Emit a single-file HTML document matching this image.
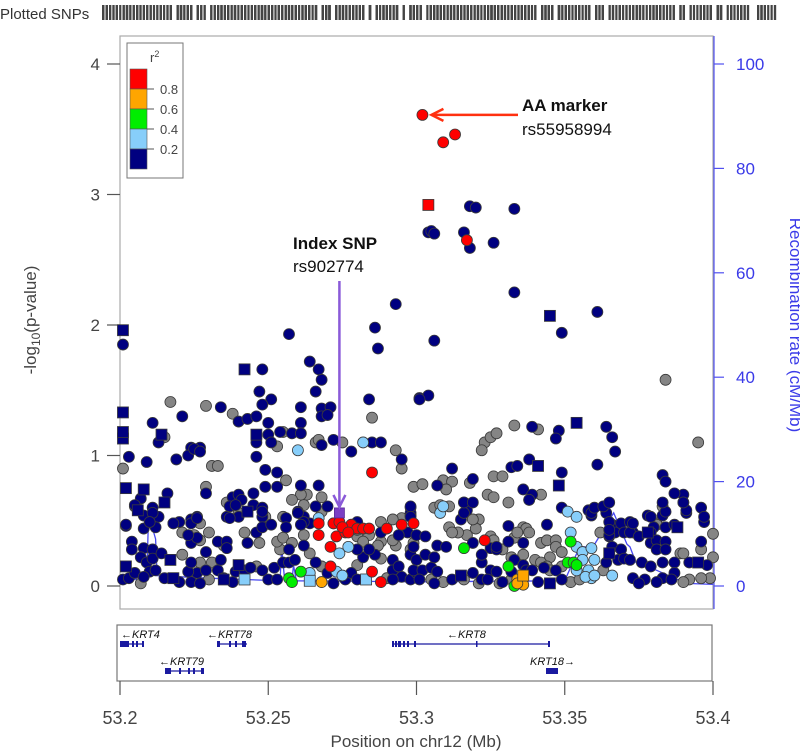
<!DOCTYPE html>
<html><head><meta charset="utf-8"><style>
html,body{margin:0;padding:0;background:#fff;}
svg{display:block;font-family:"Liberation Sans",Arial,sans-serif;}
</style></head><body>
<svg id="chart" width="800" height="754" viewBox="0 0 800 754" xmlns="http://www.w3.org/2000/svg"></svg>
<script>
// ---- data (position Mb, -log10 p) ----
const grayPts=[[53.384,1.58],[53.217,1.41],[53.229,1.38],[53.238,1.32],[53.255,1.18],[53.285,1.29],[53.266,1.10],[53.267,1.12],[53.275,1.10],[53.293,1.04],[53.215,1.14],[53.253,1.07],[53.231,0.92],[53.233,0.92],[53.229,0.76],[53.205,0.61],[53.221,0.41],[53.225,0.39],[53.201,0.90],[53.256,0.81],[53.268,0.68],[53.263,0.70],[53.261,0.70],[53.255,0.53],[53.267,0.48],[53.272,0.48],[53.333,1.23],[53.341,1.20],[53.395,1.10],[53.323,1.10],[53.322,1.04],[53.325,1.14],[53.327,1.17],[53.295,0.90],[53.342,0.70],[53.299,0.76],[53.302,0.78],[53.309,0.81],[53.312,0.80],[53.310,0.74],[53.318,0.79],[53.326,0.84],[53.329,0.84],[53.306,0.60],[53.311,0.61],[53.311,0.45],[53.314,0.41],[53.317,0.39],[53.321,0.51],[53.320,0.44],[53.324,0.70],[53.326,0.68],[53.331,0.64],[53.336,0.45],[53.337,0.44],[53.325,0.38],[53.362,0.41],[53.400,0.40],[53.383,0.61],[53.381,0.48],[53.389,0.25],[53.207,0.02],[53.230,0.05],[53.221,0.24],[53.227,0.35],[53.227,0.18],[53.231,0.18],[53.235,0.31],[53.242,0.41],[53.247,0.33],[53.246,0.15],[53.254,0.28],[53.253,0.34],[53.255,0.37],[53.258,0.33],[53.258,0.66],[53.262,0.62],[53.262,0.39],[53.264,0.25],[53.268,0.15],[53.268,0.57],[53.236,0.64],[53.240,0.56],[53.249,0.53],[53.227,0.48],[53.230,0.41],[53.280,0.16],[53.288,0.21],[53.290,0.06],[53.293,0.31],[53.298,0.28],[53.295,0.52],[53.288,0.49],[53.292,0.51],[53.292,0.35],[53.288,0.34],[53.287,0.31],[53.284,0.39],[53.280,0.38],[53.282,0.34],[53.280,0.43],[53.308,0.62],[53.319,0.51],[53.314,0.41],[53.326,0.31],[53.329,0.28],[53.333,0.37],[53.334,0.41],[53.338,0.41],[53.342,0.33],[53.344,0.35],[53.347,0.35],[53.347,0.30],[53.349,0.26],[53.345,0.22],[53.340,0.20],[53.342,0.18],[53.336,0.24],[53.332,0.22],[53.344,0.15],[53.345,0.12],[53.349,0.15],[53.305,0.05],[53.309,0.03],[53.316,0.05],[53.321,0.02],[53.328,0.02],[53.332,0.05],[53.352,0.03],[53.355,0.05],[53.363,0.12],[53.381,0.47],[53.390,0.25],[53.396,0.28],[53.400,0.22],[53.399,0.06],[53.396,0.06],[53.392,0.05],[53.390,0.03],[53.299,0.33],[53.312,0.41],[53.326,0.35]];
const navyPts=[[53.318,2.91],[53.320,2.90],[53.333,2.89],[53.304,2.71],[53.305,2.72],[53.306,2.70],[53.316,2.71],[53.318,2.59],[53.326,2.63],[53.333,2.25],[53.361,2.10],[53.349,1.94],[53.306,1.88],[53.293,2.16],[53.286,1.98],[53.287,1.82],[53.257,1.93],[53.248,1.66],[53.264,1.72],[53.267,1.66],[53.268,1.58],[53.266,1.49],[53.247,1.49],[53.301,1.44],[53.304,1.46],[53.211,1.25],[53.221,1.30],[53.234,1.37],[53.251,1.43],[53.248,1.39],[53.240,1.26],[53.243,1.28],[53.246,1.30],[53.250,1.25],[53.254,1.18],[53.258,1.17],[53.261,1.37],[53.261,1.25],[53.261,1.17],[53.268,1.36],[53.271,1.37],[53.268,1.30],[53.270,1.31],[53.284,1.43],[53.301,1.43],[53.285,1.10],[53.288,1.10],[53.272,1.12],[53.268,1.08],[53.278,1.03],[53.295,0.97],[53.246,1.14],[53.246,1.10],[53.250,1.16],[53.251,1.10],[53.227,1.06],[53.224,1.06],[53.213,1.10],[53.203,0.99],[53.209,0.95],[53.219,0.97],[53.223,1.00],[53.225,1.05],[53.227,1.03],[53.229,0.71],[53.216,0.71],[53.207,0.67],[53.211,0.60],[53.211,0.53],[53.208,0.54],[53.213,0.53],[53.202,0.46],[53.208,0.44],[53.212,0.45],[53.218,0.48],[53.220,0.49],[53.224,0.51],[53.226,0.53],[53.246,0.99],[53.249,0.89],[53.253,0.87],[53.249,0.76],[53.253,0.76],[53.261,0.77],[53.267,0.77],[53.238,0.68],[53.240,0.70],[53.241,0.66],[53.245,0.71],[53.245,0.62],[53.237,0.61],[53.236,0.53],[53.240,0.53],[53.248,0.60],[53.248,0.53],[53.260,0.57],[53.262,0.53],[53.266,0.61],[53.270,0.61],[53.264,0.48],[53.201,1.85],
[53.339,1.22],[53.348,1.19],[53.347,1.13],[53.364,1.22],[53.366,1.14],[53.367,1.03],[53.361,0.93],[53.383,0.85],[53.384,0.80],[53.312,0.90],[53.332,0.91],[53.334,0.92],[53.338,0.97],[53.349,0.87],[53.336,0.74],[53.339,0.70],[53.338,0.66],[53.307,0.77],[53.319,0.82],[53.316,0.64],[53.317,0.58],[53.298,0.60],[53.298,0.54],[53.297,0.41],[53.331,0.46],[53.344,0.47],[53.349,0.60],[53.358,0.58],[53.359,0.54],[53.364,0.56],[53.366,0.47],[53.367,0.41],[53.365,0.38],[53.369,0.48],[53.372,0.49],[53.370,0.41],[53.373,0.41],[53.378,0.54],[53.383,0.54],[53.380,0.45],[53.384,0.45],[53.384,0.57],[53.390,0.70],[53.387,0.71],[53.390,0.64],[53.391,0.56],[53.396,0.60],[53.397,0.49],[53.396,0.34],
[53.202,0.47],[53.204,0.34],[53.204,0.28],[53.201,0.05],[53.203,0.06],[53.205,0.10],[53.208,0.29],[53.207,0.22],[53.209,0.18],[53.211,0.28],[53.211,0.21],[53.210,0.11],[53.208,0.07],[53.212,0.12],[53.214,0.25],[53.215,0.06],[53.220,0.03],[53.224,0.03],[53.227,0.02],[53.226,0.10],[53.223,0.11],[53.224,0.18],[53.224,0.33],[53.226,0.37],[53.229,0.26],[53.223,0.39],[53.229,0.12],[53.233,0.12],[53.234,0.20],[53.233,0.34],[53.236,0.34],[53.236,0.29],[53.235,0.06],[53.238,0.03],[53.239,0.11],[53.242,0.12],[53.244,0.14],[53.243,0.33],[53.246,0.41],[53.248,0.12],[53.250,0.05],[53.252,0.14],[53.253,0.05],[53.255,0.18],[53.257,0.28],[53.257,0.18],[53.259,0.20],[53.260,0.56],[53.262,0.49],[53.262,0.31],[53.266,0.18],[53.270,0.10],[53.272,0.02],[53.276,0.05],[53.278,0.10],[53.280,0.05],[53.282,0.22],[53.286,0.24],[53.292,0.20],[53.292,0.12],[53.294,0.15],[53.295,0.07],[53.292,0.05],[53.298,0.05],[53.300,0.10],[53.298,0.24],[53.299,0.30],[53.298,0.56],[53.298,0.61],[53.294,0.39],[53.288,0.41],[53.284,0.28],[53.280,0.28],[53.280,0.49],[53.205,0.62],[53.211,0.56],[53.210,0.49],[53.218,0.48],[53.224,0.48],[53.226,0.52],[53.239,0.62],[53.237,0.52],[53.248,0.57],[53.248,0.45],[53.251,0.47],[53.256,0.52],[53.256,0.45],[53.261,0.47],
[53.298,0.53],[53.300,0.39],[53.303,0.38],[53.307,0.31],[53.310,0.30],[53.300,0.20],[53.303,0.24],[53.306,0.22],[53.299,0.12],[53.302,0.12],[53.305,0.14],[53.307,0.11],[53.301,0.05],[53.306,0.02],[53.312,0.05],[53.319,0.10],[53.322,0.18],[53.322,0.05],[53.325,0.12],[53.324,0.05],[53.327,0.11],[53.329,0.03],[53.332,0.11],[53.333,0.20],[53.336,0.16],[53.337,0.12],[53.339,0.12],[53.341,0.03],[53.343,0.14],[53.347,0.12],[53.349,0.05],[53.331,0.34],[53.325,0.29],[53.327,0.28],[53.322,0.24],[53.319,0.33],[53.315,0.51],[53.316,0.56],[53.316,0.64],[53.319,0.64],[53.327,0.30],[53.336,0.33],[53.338,0.66],[53.359,0.56],[53.360,0.60],[53.363,0.61],[53.365,0.64],[53.365,0.49],[53.365,0.39],[53.366,0.30],[53.364,0.18],[53.369,0.28],[53.368,0.20],[53.370,0.21],[53.372,0.20],[53.372,0.41],[53.373,0.48],[53.375,0.38],[53.379,0.53],[53.379,0.41],[53.379,0.33],[53.381,0.35],[53.384,0.34],[53.381,0.28],[53.384,0.28],[53.376,0.18],[53.379,0.15],[53.383,0.18],[53.387,0.18],[53.392,0.18],[53.398,0.16],[53.387,0.10],[53.383,0.06],[53.381,0.03],[53.377,0.05],[53.373,0.06],[53.375,0.02],[53.386,0.05],[53.365,0.43],[53.391,0.58],[53.397,0.53],[53.387,0.47],[53.383,0.64],[53.390,0.64]];
const navySq=[[53.345,2.07],[53.242,1.66],[53.201,1.33],[53.201,1.13],[53.201,1.18],[53.214,1.16],[53.246,1.16],[53.202,0.75],[53.208,0.74],[53.215,0.64],[53.206,0.58],[53.243,0.57],[53.354,1.25],[53.341,0.92],[53.348,0.77],[53.388,0.45],[53.378,0.41],[53.395,0.18],[53.202,0.15],[53.217,0.20],[53.218,0.06],[53.235,0.05],[53.240,0.16],[53.315,0.08],[53.345,0.02],[53.365,0.25],[53.201,1.96]];
const lbluePts=[[53.282,1.10],[53.260,1.04],[53.267,0.52],[53.277,0.30],[53.274,0.25],[53.264,0.10],[53.273,0.11],[53.275,0.08],[53.308,0.56],[53.309,0.61],[53.351,0.57],[53.354,0.53],[53.352,0.41],[53.354,0.30],[53.356,0.26],[53.359,0.29],[53.360,0.20],[53.356,0.20],[53.354,0.12],[53.358,0.12],[53.359,0.06],[53.357,0.07],[53.366,0.08],[53.360,0.08]];
const lblueSq=[[53.264,0.04],[53.283,0.05],[53.242,0.05]];
const greenPts=[[53.261,0.11],[53.257,0.06],[53.258,0.03],[53.316,0.29],[53.331,0.15],[53.352,0.34],[53.351,0.18],[53.353,0.18],[53.354,0.16],[53.333,0.00]];
const orangePts=[[53.268,0.03],[53.334,0.05],[53.336,0.01],[53.334,0.02]];
const orangeSq=[[53.336,0.08]];
const redPts=[[53.302,3.61],[53.309,3.40],[53.313,3.46],[53.317,2.65],[53.285,0.87],[53.267,0.48],[53.272,0.48],[53.274,0.49],[53.278,0.47],[53.280,0.44],[53.282,0.44],[53.284,0.44],[53.290,0.44],[53.295,0.47],[53.299,0.48],[53.267,0.39],[53.273,0.38],[53.276,0.41],[53.275,0.45],[53.277,0.41],[53.271,0.30],[53.271,0.15],[53.285,0.11],[53.288,0.03],[53.323,0.35]];
const redSq=[[53.304,2.92]];
const indexSnp=[53.274,0.56];
const recPos=[53.200,53.209,53.2095,53.2105,53.212,53.2125,53.230,53.254,53.2545,53.2555,53.258,53.2585,53.2595,53.300,53.350,53.355,53.357,53.359,53.3665,53.371,53.372,53.374,53.376,53.379,53.391,53.400];
const recRate=[1.0,1.5,11,12,9,2,1.5,1.0,7.5,1.2,1.0,4,1.0,0.8,1.0,7.5,7.5,7.0,14,8,7.5,4.5,4,3.5,0.5,0.3];
const yTicks=[0,1,2,3,4];
const recTicks=[0,20,40,60,80,100];
const xTicks=[53.2,53.25,53.3,53.35,53.4];
const xTickLabels=["53.2","53.25","53.3","53.35","53.4"];

const NS="http://www.w3.org/2000/svg";
const svg=document.getElementById('chart');
const X0=120,X1=713,Y0=586,Ytop=64;
function xs(p){return X0+(p-53.2)/0.2*(X1-X0);}
function ys(v){return Y0-v/4*(Y0-Ytop);}
function yr(r){return Y0-r/100*(Y0-Ytop);}
function mk(tag,attrs,parent){const e=document.createElementNS(NS,tag);for(const k in attrs)e.setAttribute(k,attrs[k]);(parent||svg).appendChild(e);return e;}
function txt(s,attrs,parent){const e=mk('text',attrs,parent);e.textContent=s;return e;}

// SNP track
const track=mk('g',{});


txt('Plotted SNPs',{x:0,y:19,'font-size':15,fill:'#333'});
const allPts=[].concat(grayPts,navyPts,navySq,lbluePts,lblueSq,greenPts,orangePts,orangeSq,redPts,redSq);
allPts.forEach(p=>{const x=100+(p[0]-53.2)/0.2*675;mk('line',{x1:x,x2:x,y1:5,y2:20,stroke:'#444','stroke-width':2.2},track);});

// plot frame
const frame=mk('rect',{x:X0,y:36,width:X1-X0,height:573,fill:'none',stroke:'#aaa','stroke-width':1.2});



// left axis
const la=mk('g',{});


yTicks.forEach(t=>{const y=ys(t);mk('line',{x1:107,x2:X0,y1:y,y2:y,stroke:'#555','stroke-width':1.2},la);txt(String(t),{x:100,y:y+6,'font-size':17,fill:'#444','text-anchor':'end'},la);});
const lt=txt('',{transform:'translate(36,320) rotate(-90)','font-size':17,fill:'#444','text-anchor':'middle'});


lt.innerHTML='-log<tspan font-size="12" dy="4">10</tspan><tspan dy="-4">(p-value)</tspan>';

// right axis
const ra=mk('g',{});


mk('line',{x1:X1+1,x2:X1+1,y1:36,y2:609,stroke:'#5050f0','stroke-width':1.2},ra);
recTicks.forEach(t=>{const y=yr(t);mk('line',{x1:X1+1,x2:X1+11,y1:y,y2:y,stroke:'#5050f0','stroke-width':1.2},ra);txt(String(t),{x:736,y:y+6,'font-size':17,fill:'#3a3ae8'},ra);});
const rt=txt('Recombination rate (cM/Mb)',{transform:'translate(790,325) rotate(90)','font-size':17,fill:'#3a3ae8','text-anchor':'middle'});



// recombination line
let d='';recPos.forEach((p,i)=>{d+=(i?'L':'M')+xs(p).toFixed(1)+','+yr(recRate[i]).toFixed(1);});
const rl=mk('path',{d:d,fill:'none',stroke:'#4848f0','stroke-width':1.3});



// points
function drawCircles(arr,fill,name){const g=mk('g',{});
 arr.forEach(p=>{const c=mk('circle',{cx:xs(p[0]),cy:ys(p[1]),r:5.5,fill:fill,stroke:'#3a3a3a','stroke-width':0.8},g);});}
function drawSquares(arr,fill,name){const g=mk('g',{});
 arr.forEach(p=>{const s=mk('rect',{x:xs(p[0])-5.5,y:ys(p[1])-5.5,width:11,height:11,fill:fill,stroke:'#3a3a3a','stroke-width':0.8},g);});}
drawCircles(grayPts,'#858585','snps-no-ld');
drawCircles(navyPts,'#000080','snps-r2-0-0.2');
drawSquares(navySq,'#000080','snps-r2-0-0.2-squares');
drawCircles(lbluePts,'#87cefa','snps-r2-0.2-0.4');
drawSquares(lblueSq,'#87cefa','snps-r2-0.2-0.4-squares');
drawCircles(greenPts,'#00ee00','snps-r2-0.4-0.6');
drawCircles(orangePts,'#ffa500','snps-r2-0.6-0.8');
drawSquares(orangeSq,'#ffa500','snps-r2-0.6-0.8-squares');
drawCircles(redPts,'#ff0000','snps-r2-0.8-1');
drawSquares(redSq,'#ff0000','snps-r2-0.8-1-squares');
const idx=mk('rect',{x:xs(indexSnp[0])-5,y:ys(indexSnp[1])-5,width:10,height:10,fill:'#7b3fc4',stroke:'#5a2a9a','stroke-width':0.8});



// annotations
const ia=mk('g',{});


txt('Index SNP',{x:293,y:249,'font-size':17,'font-weight':'bold',fill:'#111'},ia);
txt('rs902774',{x:293,y:272,'font-size':17,fill:'#111'},ia);
const ax=xs(indexSnp[0]);
mk('line',{x1:ax,x2:ax,y1:281,y2:ys(indexSnp[1])-6,stroke:'#8a5ad8','stroke-width':2.5},ia);
mk('path',{d:`M${ax-6},${ys(indexSnp[1])-18} L${ax},${ys(indexSnp[1])-6} L${ax+6},${ys(indexSnp[1])-18}`,fill:'none',stroke:'#8a5ad8','stroke-width':2.5},ia);
const aa=mk('g',{});


txt('AA marker',{x:522,y:111,'font-size':17,'font-weight':'bold',fill:'#111'},aa);
txt('rs55958994',{x:522,y:135,'font-size':17,fill:'#111'},aa);
const ay=ys(redPts[0][1]), axx=xs(redPts[0][0])+9;
mk('line',{x1:518,x2:axx,y1:ay,y2:ay,stroke:'#ff3010','stroke-width':2.5},aa);
mk('path',{d:`M${axx+12},${ay-6} L${axx},${ay} L${axx+12},${ay+6}`,fill:'none',stroke:'#ff3010','stroke-width':2.5},aa);

// legend
const lg=mk('g',{});


mk('rect',{x:127,y:43,width:56,height:135,fill:'#fff',stroke:'#777','stroke-width':1},lg);
const lt2=txt('',{x:150,y:62,'font-size':13,fill:'#444'},lg);
lt2.innerHTML='r<tspan font-size="9" dy="-5">2</tspan>';
const legCols=['#ff0000','#ffa500','#00ee00','#87cefa','#000080'];
const legLabels=['0.8','0.6','0.4','0.2'];
legCols.forEach((c,i)=>{mk('rect',{x:130,y:69+i*20,width:17,height:20,fill:c,stroke:'#555','stroke-width':0.6},lg);});
legLabels.forEach((l,i)=>{const y=89+i*20;mk('line',{x1:147,x2:154,y1:y,y2:y,stroke:'#555'},lg);txt(l,{x:160,y:y+5,'font-size':13,fill:'#444'},lg);});

// gene panel
const gp=mk('g',{});


mk('rect',{x:117,y:625,width:595,height:56,fill:'none',stroke:'#777','stroke-width':1.2},gp);
function gene(name,x1,x2,y,exons,lx,dir){
 const g=mk('g',{},gp);
 mk('line',{x1:x1,x2:x2,y1:y,y2:y,stroke:'#1a1aa0','stroke-width':1.2},g);
 exons.forEach(e=>mk('rect',{x:e[0],y:y-3,width:e[1],height:6,fill:'#1a1aa0'},g));
 txt(dir<0?'\u2190'+name:name+'\u2192',{x:lx,y:y-6,'font-size':11,'font-style':'italic',fill:'#111'},g);
}
gene('KRT4',120,144,644,[[120,9],[132,2],[136,2],[142,2]],121,-1);
gene('KRT78',217,247,644,[[217,3],[229,2],[235,2],[242,4]],207,-1);
gene('KRT79',165,204,671,[[165,6],[179,2],[188,2],[193,2],[201,3]],159,-1);
gene('KRT8',392,550,644,[[392,2],[395,2],[398,3],[403,2],[407,2],[414,2],[476,1.5],[548,2]],447,-1);
gene('KRT18',546,558,671,[[546,12]],530,1);

// x axis
const xa=mk('g',{});


xTicks.forEach((t,i)=>{const x=xs(t);mk('line',{x1:x,x2:x,y1:681,y2:695,stroke:'#555','stroke-width':1.2},xa);txt(xTickLabels[i],{x:x,y:724,'font-size':18,fill:'#444','text-anchor':'middle'},xa);});
const xt=txt('Position on chr12 (Mb)',{x:416,y:747,'font-size':17,fill:'#444','text-anchor':'middle'});


</script>
</body></html>
